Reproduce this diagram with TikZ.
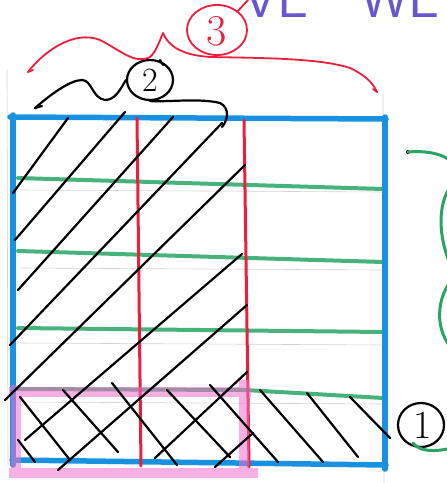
\documentclass[tikz,border=0pt]{standalone}
\usetikzlibrary{shapes.geometric}
\definecolor{blueM}{RGB}{25,145,225}
\definecolor{redM}{RGB}{235,30,60}
\definecolor{greenM}{RGB}{40,165,100}
\definecolor{pinkM}{RGB}{240,110,205}
\definecolor{purpleM}{RGB}{105,85,205}
\begin{document}
\begin{tikzpicture}[x=1pt,y=-1pt,line cap=round,line join=round,
  pencil/.style={gray!35,line width=0.6pt},
  blueline/.style={blueM,line width=5.5pt},
  redline/.style={redM,line width=3pt},
  greenline/.style={greenM!85,line width=4pt},
  pinkband/.style={pinkM,line width=10pt,opacity=0.55,line cap=butt},
  hatch/.style={black,line width=2.2pt},
  redpen/.style={redM,line width=1.8pt},
  blackpen/.style={black,line width=2.2pt},
  greenpen/.style={greenM,line width=3pt},
  ring/.style={draw,ellipse,inner sep=0pt,line width=2.2pt}]
\useasboundingbox (0,0) rectangle (447,483);
\clip (0,0) rectangle (447,483);

% pencil guide lines
\draw[pencil] (7,70) -- (8,465);
\draw[pencil] (383,95) -- (384,483);
\foreach \y in {190,268,343,402} \draw[pencil] (20,\y) -- (383,\y+2);

% green rows
\draw[greenline] (18,178) -- (383,189);
\draw[greenline] (18,251) -- (383,262);
\draw[greenline] (18,328) -- (383,332);
\draw[greenline] (18,389) -- (245,390) -- (383,398);

% blue square
\draw[blueline] (10,117) -- (386,119);
\draw[blueline] (13,115) -- (13,465);
\draw[blueline] (385,117) -- (385,469);
\draw[blueline] (12,460) -- (386,465);

% red columns
\draw[redline] (137,118) -- (141,466);
\draw[redline] (244,120) -- (249,467);

% pink highlight
\draw[pinkband] (9,392) -- (251,392) (16,385) -- (16,478) (244,380) -- (244,478) (9,473) -- (258,473);

% hatching /
\draw[hatch] (13,193) -- (68,118);
\draw[hatch] (15,240) -- (125,112);
\draw[hatch] (18,290) -- (173,117);
\draw[hatch] (10,345) -- (222,123);
\draw[hatch] (5,400) -- (245,165);
\draw[hatch] (25,440) -- (242,254);
\draw[hatch] (58,470) -- (247,305);
\draw[hatch] (155,458) -- (247,372);
\draw[hatch] (215,467) -- (253,433);
% hatching \
\draw[hatch] (20,397) -- (70,460);
\draw[hatch] (18,440) -- (35,462);
\draw[hatch] (63,390) -- (118,452);
\draw[hatch] (112,383) -- (177,465);
\draw[hatch] (167,390) -- (230,457);
\draw[hatch] (210,385) -- (278,462);
\draw[hatch] (260,390) -- (323,462);
\draw[hatch] (307,393) -- (358,457);
\draw[hatch] (350,397) -- (390,438);

% circled labels
\node[ring,redM,line width=1.8pt,minimum width=60pt,minimum height=50pt] (c3) at (217,30) {};
\node[redM,font=\fontsize{44}{44}\selectfont] (t3) at (217,31) {3};
\draw[redpen] (237,12) -- (248,0);
\node[ring,minimum width=46pt,minimum height=40pt] (c2) at (150,80) {};
\node[font=\fontsize{34}{34}\selectfont] (t2) at (150,80) {2};
\draw[blackpen] (160,60) -- (163,65);
\node[ring,minimum width=46pt,minimum height=44pt] (c1) at (421,425) {};
\node[font=\fontsize{40}{40}\selectfont] (t1) at (423,425) {1};

% red brace (3)
\draw[redpen] (28,72) .. controls (45,50) and (75,30) .. (100,40)
  .. controls (120,50) and (135,65) .. (150,57)
  .. controls (156,52) and (160,40) .. (163,33)
  .. controls (168,45) and (180,55) .. (210,57)
  .. controls (260,58) and (320,58) .. (350,68)
  .. controls (365,75) and (373,83) .. (377,92);
\draw[redpen] (28,72) -- (33,70);
\draw[redpen] (377,92) -- (373,89);

% black brace (2)
\draw[blackpen] (35,108) .. controls (50,95) and (70,80) .. (82,80)
  .. controls (92,80) and (92,98) .. (105,100)
  .. controls (115,100) and (120,90) .. (c2.west);
\draw[blackpen] (c2.south) .. controls (170,102) and (200,98) .. (220,103)
  .. controls (230,108) and (228,120) .. (222,127);
\draw[blackpen] (35,108) -- (42,106);

% green brace (1)
\fill[black] (408,152) circle (2pt);
\draw[greenpen] (408,152) .. controls (430,150) and (455,155) .. (460,175);
\draw[greenpen] (455,183) .. controls (438,195) and (436,235) .. (452,268);
\draw[greenpen] (452,280) .. controls (438,295) and (432,330) .. (455,352);
\draw[greenpen] (413,443) .. controls (420,452) and (435,452) .. (452,448);

% purple text (cut off at top)
\node[purpleM,anchor=base west,inner sep=0pt,font=\fontsize{55}{55}\selectfont\sffamily] (tv) at (243,17) {VE};
\node[purpleM,anchor=base west,inner sep=0pt,font=\fontsize{55}{55}\selectfont\sffamily] (tw) at (360,17) {WE};
\end{tikzpicture}
\end{document}
